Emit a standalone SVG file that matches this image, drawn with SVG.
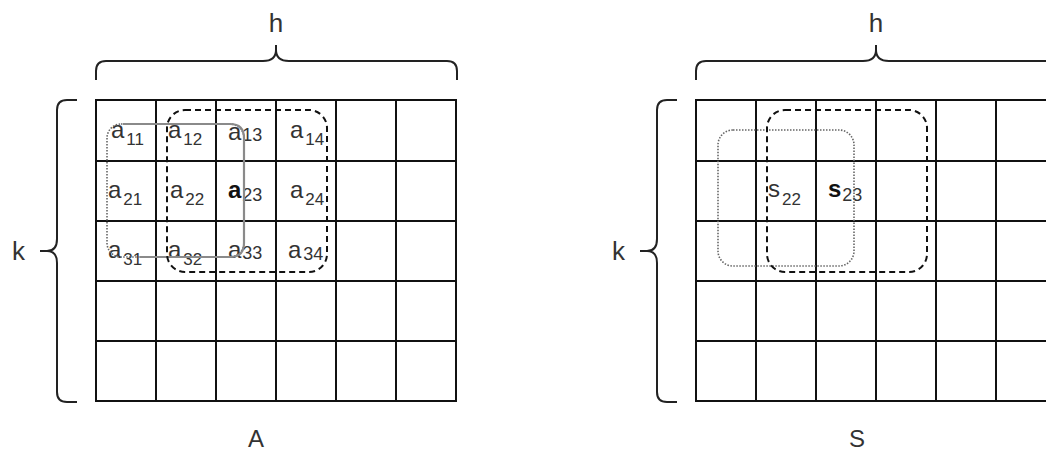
<svg xmlns="http://www.w3.org/2000/svg" width="1046" height="455" viewBox="0 0 1046 455">
<style>
.grid{fill:none;stroke:#111;stroke-width:2}
.brace{fill:none;stroke:#222;stroke-width:2}
.big{font-family:"Liberation Sans",Arial,sans-serif;font-size:26px;fill:#333}
.cap{font-family:"Liberation Sans",Arial,sans-serif;font-size:24px;fill:#333}
.lbl{font-family:"Liberation Sans",Arial,sans-serif;font-size:24px;fill:#333}
.sub{font-size:17px}
.sub3{font-size:18px}
.b{font-weight:bold;fill:#111}
.dash{fill:none;stroke:#111;stroke-width:2;stroke-dasharray:6 4}
.dot{fill:none;stroke:#666;stroke-width:1.6;stroke-dasharray:1.5 1.5}
.solid{fill:none;stroke:#8a8a8a;stroke-width:2.2}
</style>
<rect width="1046" height="455" fill="#fff"/>
<defs>
<g id="gridlines">
<rect class="grid" x="0" y="0" width="360" height="301"/>
<path class="grid" d="M60,0V301M120,0V301M180,0V301M240,0V301M300,0V301M0,61H360M0,121H360M0,181H360M0,241H360"/>
</g>
</defs>

<g id="brace-h-A">
<path class="brace" d="M96,80V71Q96,61 106,61H263Q276,61 276,50V45M276,50Q276,61 289,61H447Q457,61 457,71V80"/>
<text class="big" x="276" y="32" text-anchor="middle">h</text>
</g>
<g id="brace-k-A">
<path class="brace" d="M77,100H67Q57,100 57,110V239Q57,251 47,251H40M47,251Q57,251 57,263V392Q57,402 67,402H77"/>
<text class="big" x="12" y="260">k</text>
</g>
<g id="matrix-A">
<use href="#gridlines" x="96" y="100"/>
<text class="lbl" x="111" y="138">a<tspan class="sub" dx="2" dy="7">11</tspan></text>
<text class="lbl" x="168" y="138">a<tspan class="sub" dx="2" dy="7">12</tspan></text>
<text class="lbl" x="228" y="140">a<tspan class="sub3" dx="1" dy="1">13</tspan></text>
<text class="lbl" x="290" y="138">a<tspan class="sub" dx="2" dy="7">14</tspan></text>
<text class="lbl" x="108" y="198">a<tspan class="sub" dx="2" dy="7">21</tspan></text>
<text class="lbl" x="170" y="198">a<tspan class="sub" dx="2" dy="7">22</tspan></text>
<text class="lbl" x="228" y="198"><tspan class="b">a</tspan><tspan class="sub3" dx="1" dy="3">23</tspan></text>
<text class="lbl" x="290" y="198">a<tspan class="sub" dx="2" dy="7">24</tspan></text>
<text class="lbl" x="108" y="258">a<tspan class="sub" dx="2" dy="7">31</tspan></text>
<text class="lbl" x="168" y="258">a<tspan class="sub" dx="2" dy="7">32</tspan></text>
<text class="lbl" x="228" y="258">a<tspan class="sub3" dx="1" dy="1">33</tspan></text>
<text class="lbl" x="288" y="258">a<tspan class="sub3" dx="2" dy="2">34</tspan></text>
<text class="cap" x="256" y="447" text-anchor="middle">A</text>
</g>
<g id="window-A-solid">
<rect class="dot" x="107" y="124" width="137" height="133" rx="14"/>
<path class="solid" d="M123,124H230Q244,124 244,138V243Q244,257 230,257H140"/>
</g>
<g id="window-A-dashed">
<rect class="dash" x="167" y="110" width="160" height="162" rx="18"/>
</g>

<g id="brace-h-S">
<path class="brace" d="M696,80V71Q696,61 706,61H863Q876,61 876,50V45M876,50Q876,61 889,61H1047Q1057,61 1057,71V80"/>
<text class="big" x="876" y="32" text-anchor="middle">h</text>
</g>
<g id="brace-k-S">
<path class="brace" d="M677,100H667Q657,100 657,110V239Q657,251 647,251H640M647,251Q657,251 657,263V392Q657,402 667,402H677"/>
<text class="big" x="612" y="260">k</text>
</g>
<g id="matrix-S">
<use href="#gridlines" x="696" y="100"/>
<text class="lbl" x="768" y="197">s<tspan class="sub" dx="2" dy="8">22</tspan></text>
<text class="lbl" x="828" y="197"><tspan class="b">s</tspan><tspan class="sub3" dx="1" dy="4">23</tspan></text>
<text class="cap" x="857" y="447" text-anchor="middle">S</text>
</g>
<g id="window-S-dotted">
<rect class="dot" x="718" y="130" width="136" height="136" rx="15"/>
</g>
<g id="window-S-dashed">
<rect class="dash" x="767" y="110" width="160" height="162" rx="18"/>
</g>
</svg>
